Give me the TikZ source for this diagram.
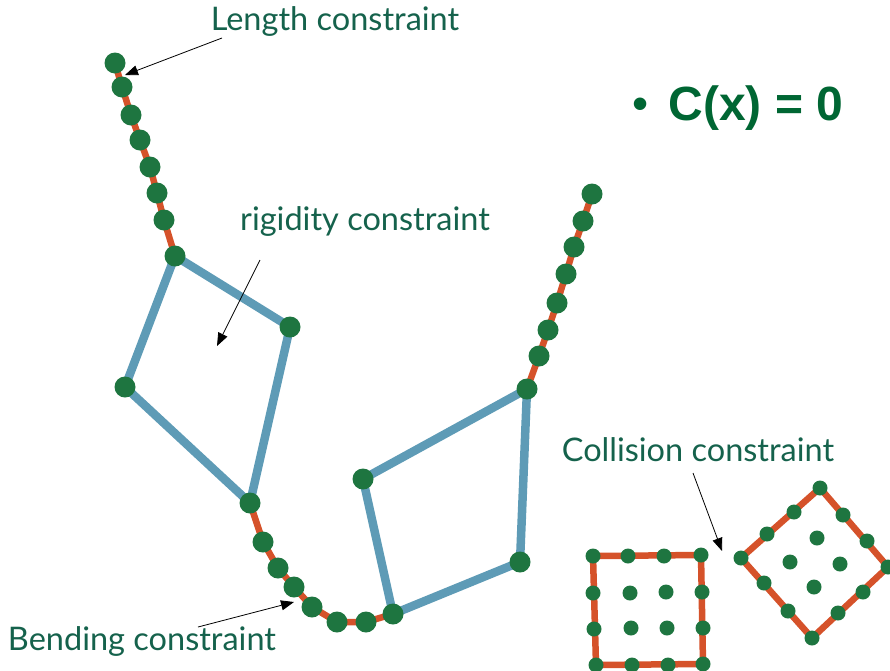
\documentclass[tikz,border=0pt]{standalone}
\usepackage{fontspec}
\setmainfont{Lato}
\newfontfamily\arialfont{Liberation Sans}
\usetikzlibrary{arrows.meta,backgrounds}
\definecolor{dotgreen}{HTML}{1E7540}
\definecolor{linkred}{HTML}{D5522A}
\definecolor{rigblue}{HTML}{5E9BB6}
\definecolor{labelgreen}{HTML}{15624C}
\definecolor{formgreen}{HTML}{006633}
\tikzset{
  dot/.style={circle,fill=dotgreen,inner sep=0pt,minimum size=21pt},
  sdot/.style={circle,fill=dotgreen,inner sep=0pt,minimum size=15pt},
  link/.style={draw=linkred,line width=6.5pt},
  rigid/.style={draw=rigblue,line width=8.5pt,line join=round},
  wall/.style={draw=linkred,line width=6.5pt,line join=miter},
  lbl/.style={text=labelgreen,font=\fontsize{32.5}{36}\selectfont,inner sep=0pt},
  pointer/.style={draw=black,line width=0.8pt,-{Triangle[length=13pt,width=10pt]}},
}
\begin{document}
\begin{tikzpicture}[x=1pt,y=-1pt]
\useasboundingbox (0,0) rectangle (890,670);
% left chain
\foreach \n/\x/\y in {l1/115/63,l2/122/87,l3/131/115,l4/140/140,l5/150/167,l6/157/193,l7/164/220,l8/175/256}
  \node[dot] (\n) at (\x,\y) {};
% left rigid quad
\node[dot] (q1) at (290,327) {};
\node[dot] (q2) at (250,503) {};
\node[dot] (q3) at (125,387) {};
% bottom chain
\foreach \n/\x/\y in {b2/263/542,b3/278/568,b4/294/587,b5/312/607,b6/337/622,b7/366/622,b8/393/614}
  \node[dot] (\n) at (\x,\y) {};
% right rigid quad
\node[dot] (r1) at (520,562) {};
\node[dot] (r2) at (527,389) {};
\node[dot] (r3) at (363,479) {};
% right chain
\foreach \n/\x/\y in {c1/592/194,c2/583/221,c3/574/247,c4/566/274,c5/557/303,c6/548/330,c7/539/356}
  \node[dot] (\n) at (\x,\y) {};
% collision square (left)
\foreach \n/\x/\y in {s1/593/556,s2/628/556,s3/664/556,s4/701/555,s5/702/592,s6/703/628,s7/703/664,s8/668/665,s9/632/665,s10/596/665,s11/594/629,s12/593/593,
  i1/630/593,i2/666/592,i3/631/628,i4/667/628}
  \node[sdot] (\n) at (\x,\y) {};
% collision diamond (right)
\foreach \n/\x/\y in {d1/820/488,d2/843/515,d3/867/541,d4/888/567,d5/863/592,d6/838/613,d7/812/638,d8/788/611,d9/764/583,d10/741/558,d11/767/534,d12/794/512,
  j1/817/538,j2/790/562,j3/840/564,j4/814/587}
  \node[sdot] (\n) at (\x,\y) {};
\begin{scope}[on background layer]
  \draw[link] (l1.center)--(l2.center)--(l3.center)--(l4.center)--(l5.center)--(l6.center)--(l7.center)--(l8.center);
  \draw[link] (q2.center)--(b2.center)--(b3.center)--(b4.center)--(b5.center)--(b6.center)--(b7.center)--(b8.center);
  \draw[link] (r2.center)--(c7.center)--(c6.center)--(c5.center)--(c4.center)--(c3.center)--(c2.center)--(c1.center);
  \draw[rigid] (l8.center)--(q1.center)--(q2.center)--(q3.center)--cycle;
  \draw[rigid] (b8.center)--(r1.center)--(r2.center)--(r3.center)--cycle;
  \draw[wall] (s1.center)--(s4.center)--(s7.center)--(s10.center)--cycle;
  \draw[wall] (d1.center)--(d4.center)--(d7.center)--(d10.center)--cycle;
\end{scope}
% labels
\node[lbl] (tlen) at (335,21) {Length constraint};
\node[lbl] (trig) at (365,221) {rigidity constraint};
\node[lbl] (tcol) at (698,450) {Collision constraint};
\node[lbl] (tben) at (142,641) {Bending constraint};
\node[text=formgreen,font=\arialfont\fontsize{46}{50}\selectfont,inner sep=0pt] (bul) at (641,109) {•};
\node[text=formgreen,font=\arialfont\bfseries\fontsize{48}{52}\selectfont,inner sep=0pt] (form) at (756,108) {C(x) = 0};
% pointers
\coordinate (alen) at (222,38); \coordinate (tiplen) at (125,75);
\coordinate (arig) at (260,260); \coordinate (tiprig) at (217,346);
\coordinate (acol) at (693,473); \coordinate (tipcol) at (722,551);
\coordinate (aben) at (198,627); \coordinate (tipben) at (294,602);
\draw[pointer] (alen)--(tiplen);
\draw[pointer] (arig)--(tiprig);
\draw[pointer] (acol)--(tipcol);
\draw[pointer] (aben)--(tipben);
\end{tikzpicture}
\end{document}
